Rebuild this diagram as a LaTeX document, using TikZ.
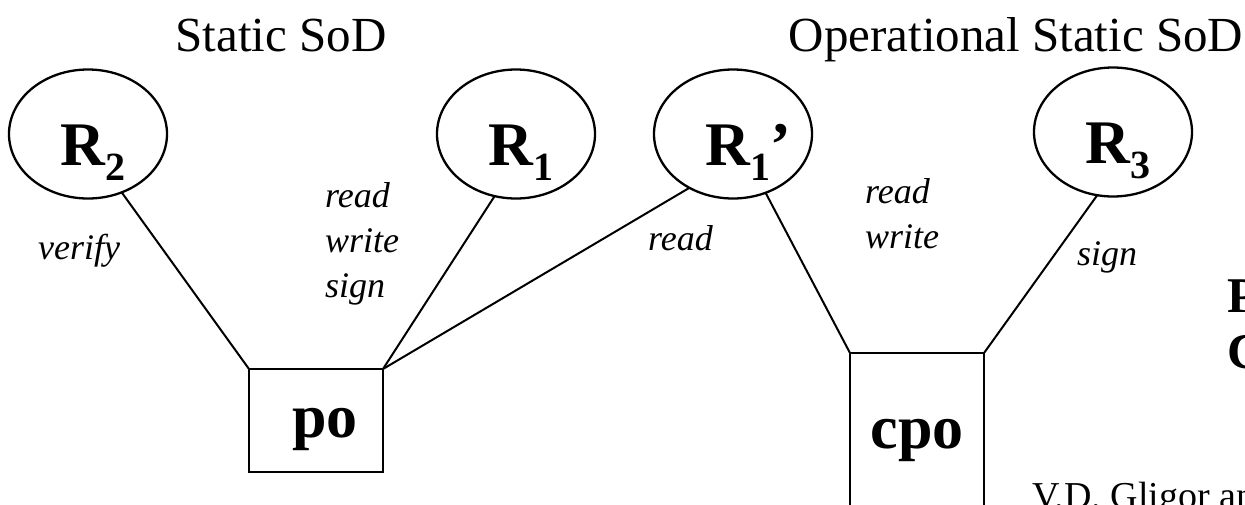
\documentclass[tikz,border=0pt]{standalone}
\usepackage{fontspec}
\setmainfont{Liberation Serif}
\usetikzlibrary{shapes.geometric}
\newcommand{\rsub}[1]{\raisebox{-15pt}{\fontsize{40}{40}\selectfont #1}}
\newcommand{\role}[1]{\hspace*{10pt}R\rsub{#1}}

\begin{document}
\begin{tikzpicture}[
  x=1pt, y=-1pt,
  role/.style={ellipse, draw, line width=2.3pt, minimum width=158pt, minimum height=129pt,
    inner sep=0pt, outer sep=0pt, text height=62pt, text depth=0pt,
    font=\fontsize{62}{62}\selectfont\bfseries},
  obj/.style={draw, line width=2.5pt, minimum width=134pt, inner sep=0pt, outer sep=0pt,
    text height=33pt, text depth=0pt, font=\fontsize{62}{62}\selectfont\bfseries},
  link/.style={line width=2pt},
  lbl/.style={inner sep=0pt, align=left, font=\fontsize{36}{45}\selectfont\itshape},
  ttl/.style={inner sep=0pt, font=\fontsize{49}{49}\selectfont}
]
  \useasboundingbox (0,0) rectangle (1245,504);
  \clip (0,0) rectangle (1245,504);
  % titles
  \node[ttl, anchor=base] (tstatic) at (281,51) {Static SoD};
  \node[ttl, anchor=base] (toper) at (1016,51) {Operational Static SoD};
  % roles
  \node[role] (r2) at (88,134) {\role{2}};
  \node[role] (r1) at (516,134) {\role{1}};
  \node[role] (r1p) at (733,134) {\role{1}\rlap{’}};
  \node[role] (r3) at (1113,132) {\role{3}};
  % objects
  \node[obj, minimum height=103pt] (po) at (316,420.5) {\hspace*{18pt}po};
  \node[obj, minimum height=158pt] (cpo) at (917,432) {cpo};
  % permissions
  \draw[link] (r2.300) -- (po.north west);
  \draw[link] (r1.251) -- (po.north east);
  \draw[link] (r1p.231) -- (po.north east);
  \draw[link] (r1p.299) -- (cpo.north west);
  \draw[link] (r3.256) -- (cpo.north east);
  \node[lbl, anchor=base west] (lverify) at (38,259) {verify};
  \node[lbl, anchor=base west] (lrws) at (325,297) {read\\write\\sign};
  \node[lbl, anchor=base west] (lread) at (648,250) {read};
  \node[lbl, anchor=base west] (lrw) at (865,248) {read\\write};
  \node[lbl, anchor=base west] (lsign) at (1077,265) {sign};
  % cut-off side text
  \node[inner sep=0pt, align=left, anchor=base west, font=\fontsize{50}{56}\selectfont\bfseries]
    (side) at (1227,368) {P\\C};
  \node[inner sep=0pt, anchor=base west, font=\fontsize{38}{38}\selectfont]
    (cite) at (1032,508) {V.D. Gligor an};
\end{tikzpicture}
\end{document}
